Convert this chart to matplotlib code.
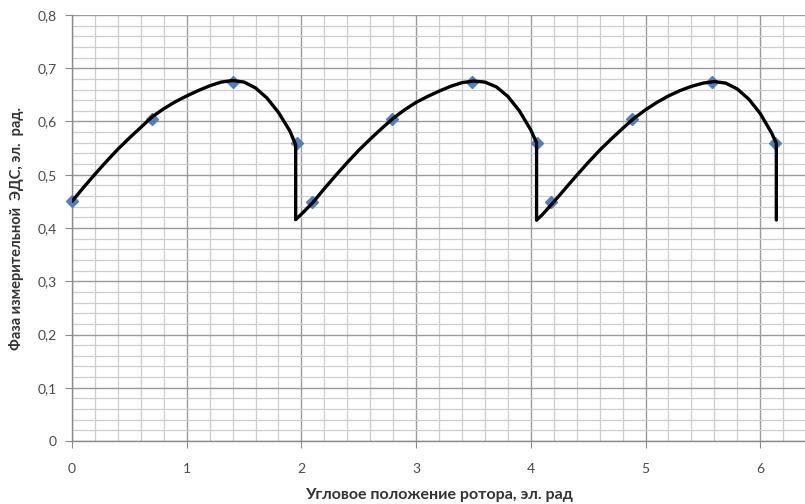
import matplotlib
matplotlib.use("Agg")
import matplotlib.pyplot as plt
from matplotlib.ticker import MultipleLocator, FuncFormatter

plt.rcParams['font.family'] = ['Lato', 'DejaVu Sans']

# measured points (blue diamonds)
x_pts = [0.00, 0.70, 1.40, 1.96, 2.09, 2.79, 3.49, 4.05, 4.18, 4.88, 5.58, 6.13]
y_pts = [0.450, 0.605, 0.675, 0.560, 0.448, 0.605, 0.675, 0.560, 0.448, 0.605, 0.675, 0.560]

# hand-drawn black curve (three segments)
seg1_x = [0.00, 0.10, 0.20, 0.30, 0.40, 0.50, 0.60, 0.70, 0.80, 0.90, 1.00,
          1.10, 1.20, 1.30, 1.40, 1.50, 1.60, 1.70, 1.80, 1.90, 1.95, 1.95]
seg1_y = [0.450, 0.476, 0.501, 0.525, 0.548, 0.569, 0.589, 0.609, 0.624, 0.637, 0.648,
          0.658, 0.667, 0.674, 0.677, 0.674, 0.663, 0.644, 0.617, 0.582, 0.556, 0.416]

seg2_x = [1.95, 2.00, 2.10, 2.20, 2.30, 2.40, 2.50, 2.60, 2.70, 2.80, 2.90, 3.00,
          3.10, 3.20, 3.30, 3.40, 3.50, 3.60, 3.70, 3.80, 3.90, 4.00, 4.05, 4.05]
seg2_y = [0.416, 0.426, 0.448, 0.474, 0.499, 0.523, 0.546, 0.567, 0.587, 0.606, 0.622, 0.636,
          0.647, 0.657, 0.666, 0.673, 0.676, 0.674, 0.665, 0.647, 0.620, 0.584, 0.560, 0.415]

seg3_x = [4.05, 4.10, 4.20, 4.30, 4.40, 4.50, 4.60, 4.70, 4.80, 4.90, 5.00, 5.10,
          5.20, 5.30, 5.40, 5.50, 5.60, 5.70, 5.80, 5.90, 6.00, 6.10, 6.14, 6.14]
seg3_y = [0.415, 0.425, 0.449, 0.474, 0.499, 0.523, 0.546, 0.567, 0.587, 0.606, 0.622, 0.636,
          0.648, 0.658, 0.666, 0.672, 0.675, 0.672, 0.661, 0.642, 0.615, 0.578, 0.559, 0.415]

x_label = "Угловое положение ротора, эл. рад"
y_label = "Фаза измерительной  ЭДС, эл.  рад."

fig = plt.figure(figsize=(8.05, 5.04), dpi=100)
ax = fig.add_axes([72/805, 1 - 441/504, 1 - 72/805, (441 - 15)/504])

ax.set_xlim(0, 6.39)
ax.set_ylim(0, 0.8)

ax.xaxis.set_major_locator(MultipleLocator(1))
ax.xaxis.set_minor_locator(MultipleLocator(0.2))
ax.yaxis.set_major_locator(MultipleLocator(0.1))
ax.yaxis.set_minor_locator(MultipleLocator(0.02))

fmt = FuncFormatter(lambda v, p: ("%g" % round(v, 2)).replace('.', ','))
ax.xaxis.set_major_formatter(fmt)
ax.yaxis.set_major_formatter(fmt)

ax.grid(which='major', color='#9a9a9a', linewidth=1.0)
ax.grid(which='minor', color='#cdcdcd', linewidth=0.9)
ax.set_axisbelow(True)

for s in ['top', 'right']:
    ax.spines[s].set_visible(False)
for s in ['left', 'bottom']:
    ax.spines[s].set_color('#8a8a8a')
    ax.spines[s].set_linewidth(1.0)

ax.tick_params(which='major', direction='out', length=5, color='#8a8a8a',
               labelcolor='#4a4a4a', labelsize=10)
ax.tick_params(axis='x', which='major', pad=11)
ax.tick_params(axis='y', which='major', pad=6)
ax.tick_params(which='minor', length=0)

ax.plot(x_pts, y_pts, linestyle='none', marker='D', markersize=6.5,
        color='#4f81bd', zorder=3, clip_on=False)
for sx, sy in [(seg1_x, seg1_y), (seg2_x, seg2_y), (seg3_x, seg3_y)]:
    ax.plot(sx, sy, color='black', linewidth=2.4, solid_joinstyle='round',
            solid_capstyle='round', zorder=4)

ax.set_xlabel(x_label, fontsize=11.5, fontweight='bold', color='#333333', labelpad=9)
ax.set_ylabel(y_label, fontsize=10.5, fontweight='bold', color='#333333', labelpad=10)

fig.savefig("out.png", dpi=100)
